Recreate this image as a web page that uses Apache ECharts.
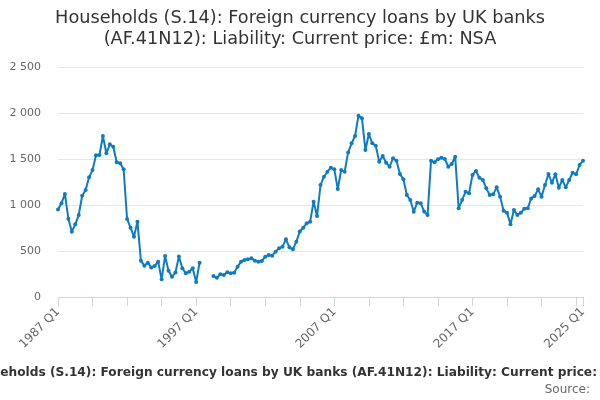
<!DOCTYPE html>
<html>
<head>
<meta charset="utf-8">
<script src="https://cdn.jsdelivr.net/npm/echarts@6/dist/echarts.min.js"></script>
<style>
html, body { margin: 0; padding: 0; background: #fff; }
#chart { width: 600px; height: 400px; }
</style>
</head>
<body>
<div id="chart"></div>
<script>
// quarters 1987 Q1 .. 2025 Q1
var startYear = 1987;
var endYear = 2025;
var quarters = [];
for (var y = startYear; y <= endYear; y++) {
	for (var q = 1; q <= 4; q++) {
		if (y === endYear && q > 1) break;
		quarters.push(y + ' Q' + q);
	}
}

// £m (null = no data)
var loans1987to1996 = [
	950, 1018, 1120, 851, 710, 790, 891, 1100, 1163, 1301,
	1380, 1540, 1543, 1750, 1562, 1659, 1634, 1464, 1453, 1388,
	848, 753, 656, 819, 395, 341, 373, 322, 337, 384,
	192, 446, 286, 221, 265, 440, 312, 257, 275, 312
];
var loans1997to2006 = [
	163, 373, null, null, null, 228, 210, 246, 239, 268,
	257, 264, 330, 384, 402, 409, 420, 395, 384, 391,
	438, 456, 449, 493, 529, 547, 627, 540, 518, 601,
	712, 753, 801, 819, 1036, 880, 1217, 1308, 1362, 1406
];
var loans2007to2016 = [
	1388, 1174, 1380, 1362, 1572, 1670, 1750, 1971, 1942, 1598,
	1772, 1670, 1645, 1471, 1533, 1460, 1417, 1507, 1482, 1337,
	1279, 1109, 1054, 927, 1025, 1020, 930, 891, 1482, 1464,
	1496, 1514, 1500, 1417, 1446, 1525, 964, 1054, 1145, 1127
];
var loans2017to2025 = [
	1326, 1370, 1297, 1272, 1181, 1109, 1116, 1192, 1091, 938,
	917, 790, 946, 891, 917, 960, 964, 1072, 1098, 1170,
	1091, 1217, 1337, 1243, 1333, 1188, 1272, 1192, 1272, 1351,
	1333, 1435, 1482
];
var loanValues = loans1987to1996.concat(loans1997to2006, loans2007to2016, loans2017to2025);

var titleText = 'Households (S.14): Foreign currency loans by UK banks\n(AF.41N12): Liability: Current price: £m: NSA';
var footText = 'Households (S.14): Foreign currency loans by UK banks (AF.41N12): Liability: Current price: £m: NSA';
var footVisibleEnd = 'Households (S.14): Foreign currency loans by UK banks (AF.41N12): Liability: Current price:';
var lastIndex = quarters.length - 1;

function fmtThousands(v) {
	return String(v).replace(/\B(?=(\d{3})+(?!\d))/g, ' ');
}

// the footer runs off both sides; place it so "price:" ends at the right edge
var footFont = 'bold 12.2px "DejaVu Sans"';
var ctx = document.createElement('canvas').getContext('2d');
ctx.font = footFont;
var footLeft = 597 - ctx.measureText(footVisibleEnd).width;

var myChart = echarts.init(document.getElementById('chart'), null, { renderer: 'canvas' });
var option = {
	animation: false,
	backgroundColor: '#ffffff',
	textStyle: { fontFamily: 'DejaVu Sans' },
	grid: {
		left: 58,
		right: 17,
		top: 67,
		bottom: 103,
		containLabel: false
	},
	xAxis: {
		type: 'category',
		data: quarters,
		boundaryGap: false,
		axisLine: { lineStyle: { color: '#ccd6eb', width: 1 } },
		axisTick: {
			length: 9,
			lineStyle: { color: '#ccd6eb' },
			interval: function (index) { return index % 10 === 0 || index === lastIndex; }
		},
		axisLabel: {
			rotate: 45,
			color: '#666666',
			fontSize: 12,
			margin: 13,
			interval: function (index) { return index % 40 === 0 || index === lastIndex; }
		},
		splitLine: { show: false }
	},
	yAxis: {
		type: 'value',
		min: 0,
		max: 2500,
		interval: 500,
		axisLine: { show: false },
		axisTick: { show: false },
		axisLabel: {
			color: '#666666',
			fontSize: 11,
			margin: 17,
			formatter: fmtThousands
		},
		splitLine: { lineStyle: { color: '#e6e6e6', width: 1 } }
	},
	series: [{
		name: 'Households (S.14)',
		type: 'line',
		data: loanValues,
		connectNulls: false,
		symbol: 'circle',
		symbolSize: 4,
		showAllSymbol: true,
		lineStyle: { color: '#0f7bc0', width: 2 },
		itemStyle: { color: '#0f7bc0' }
	}],
	graphic: [
		{
			type: 'text',
			x: 300,
			y: 29,
			style: {
				text: titleText,
				fontFamily: 'DejaVu Sans',
				fontSize: 17.7,
				lineHeight: 21,
				fill: '#333333',
				textAlign: 'center',
				textVerticalAlign: 'middle'
			}
		},
		{
			type: 'text',
			x: footLeft,
			y: 373,
			style: {
				text: footText,
				font: footFont,
				fill: '#333333',
				textAlign: 'left',
				textVerticalAlign: 'middle'
			}
		},
		{
			type: 'text',
			x: 590,
			y: 390,
			style: {
				text: 'Source:',
				fontFamily: 'DejaVu Sans',
				fontSize: 12,
				fill: '#666666',
				textAlign: 'right',
				textVerticalAlign: 'middle'
			}
		}
	]
};
myChart.setOption(option);
</script>
</body>
</html>
